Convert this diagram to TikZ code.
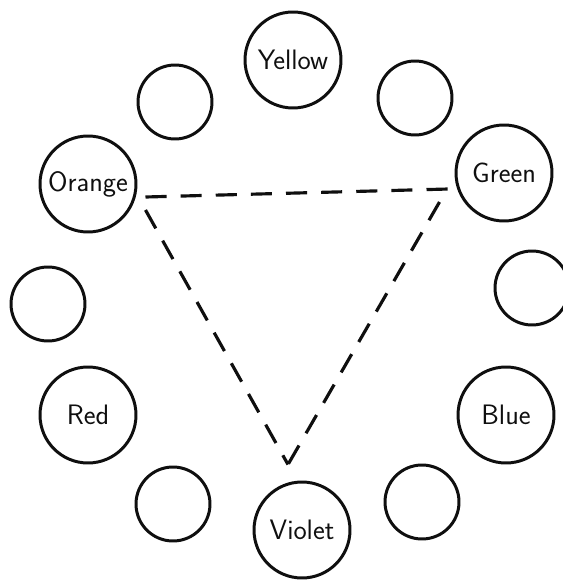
\documentclass[tikz,border=0pt]{standalone}
\usepackage{xcolor}
\usepackage{tikz}
\usetikzlibrary{calc}
\definecolor{myink}{RGB}{15,15,15}
\tikzset{
  huenode/.style={circle, draw=myink, line width=1.7pt, minimum size=1.92cm,
    inner sep=0pt, text=myink, font=\fontsize{16}{19}\selectfont\sffamily},
  blanknode/.style={circle, draw=myink, line width=1.7pt, minimum size=1.48cm,
    inner sep=0pt},
  dashline/.style={line width=1.8pt, dash pattern=on 12pt off 8pt, color=myink}
}
\begin{document}
\begin{tikzpicture}[x=0.02cm, y=-0.02cm]
  \useasboundingbox (0,0) rectangle (563,580);

  % colour wheel
  \node[huenode] (yellow) at (293,60) {Yellow};
  \node[blanknode] (tl) at (175,102) {};
  \node[blanknode] (tr) at (415,98) {};
  \node[huenode] (orange) at (88,184) {Orange};
  \node[huenode] (green) at (504,173) {Green};
  \node[blanknode] (ml) at (48,304) {};
  \node[blanknode] (mr) at (532,288) {};
  \node[huenode] (red) at (88,415) {Red};
  \node[huenode] (blue) at (506,415) {Blue};
  \node[blanknode] (bl) at (173,504) {};
  \node[huenode] (violet) at (302,530) {Violet};
  \node[blanknode] (br) at (422,502) {};

  % secondary triad
  \coordinate (apex) at ($(violet.north)+(-14,-16)$);
  \draw[dashline] ([shift={(8,13)}]orange.east) -- ([shift={(-6,16)}]green.west);
  \draw[dashline] ([shift={(8,26)}]orange.east) -- (apex);
  \draw[dashline] ([shift={(-15,29)}]green.west) -- (apex);
\end{tikzpicture}
\end{document}
